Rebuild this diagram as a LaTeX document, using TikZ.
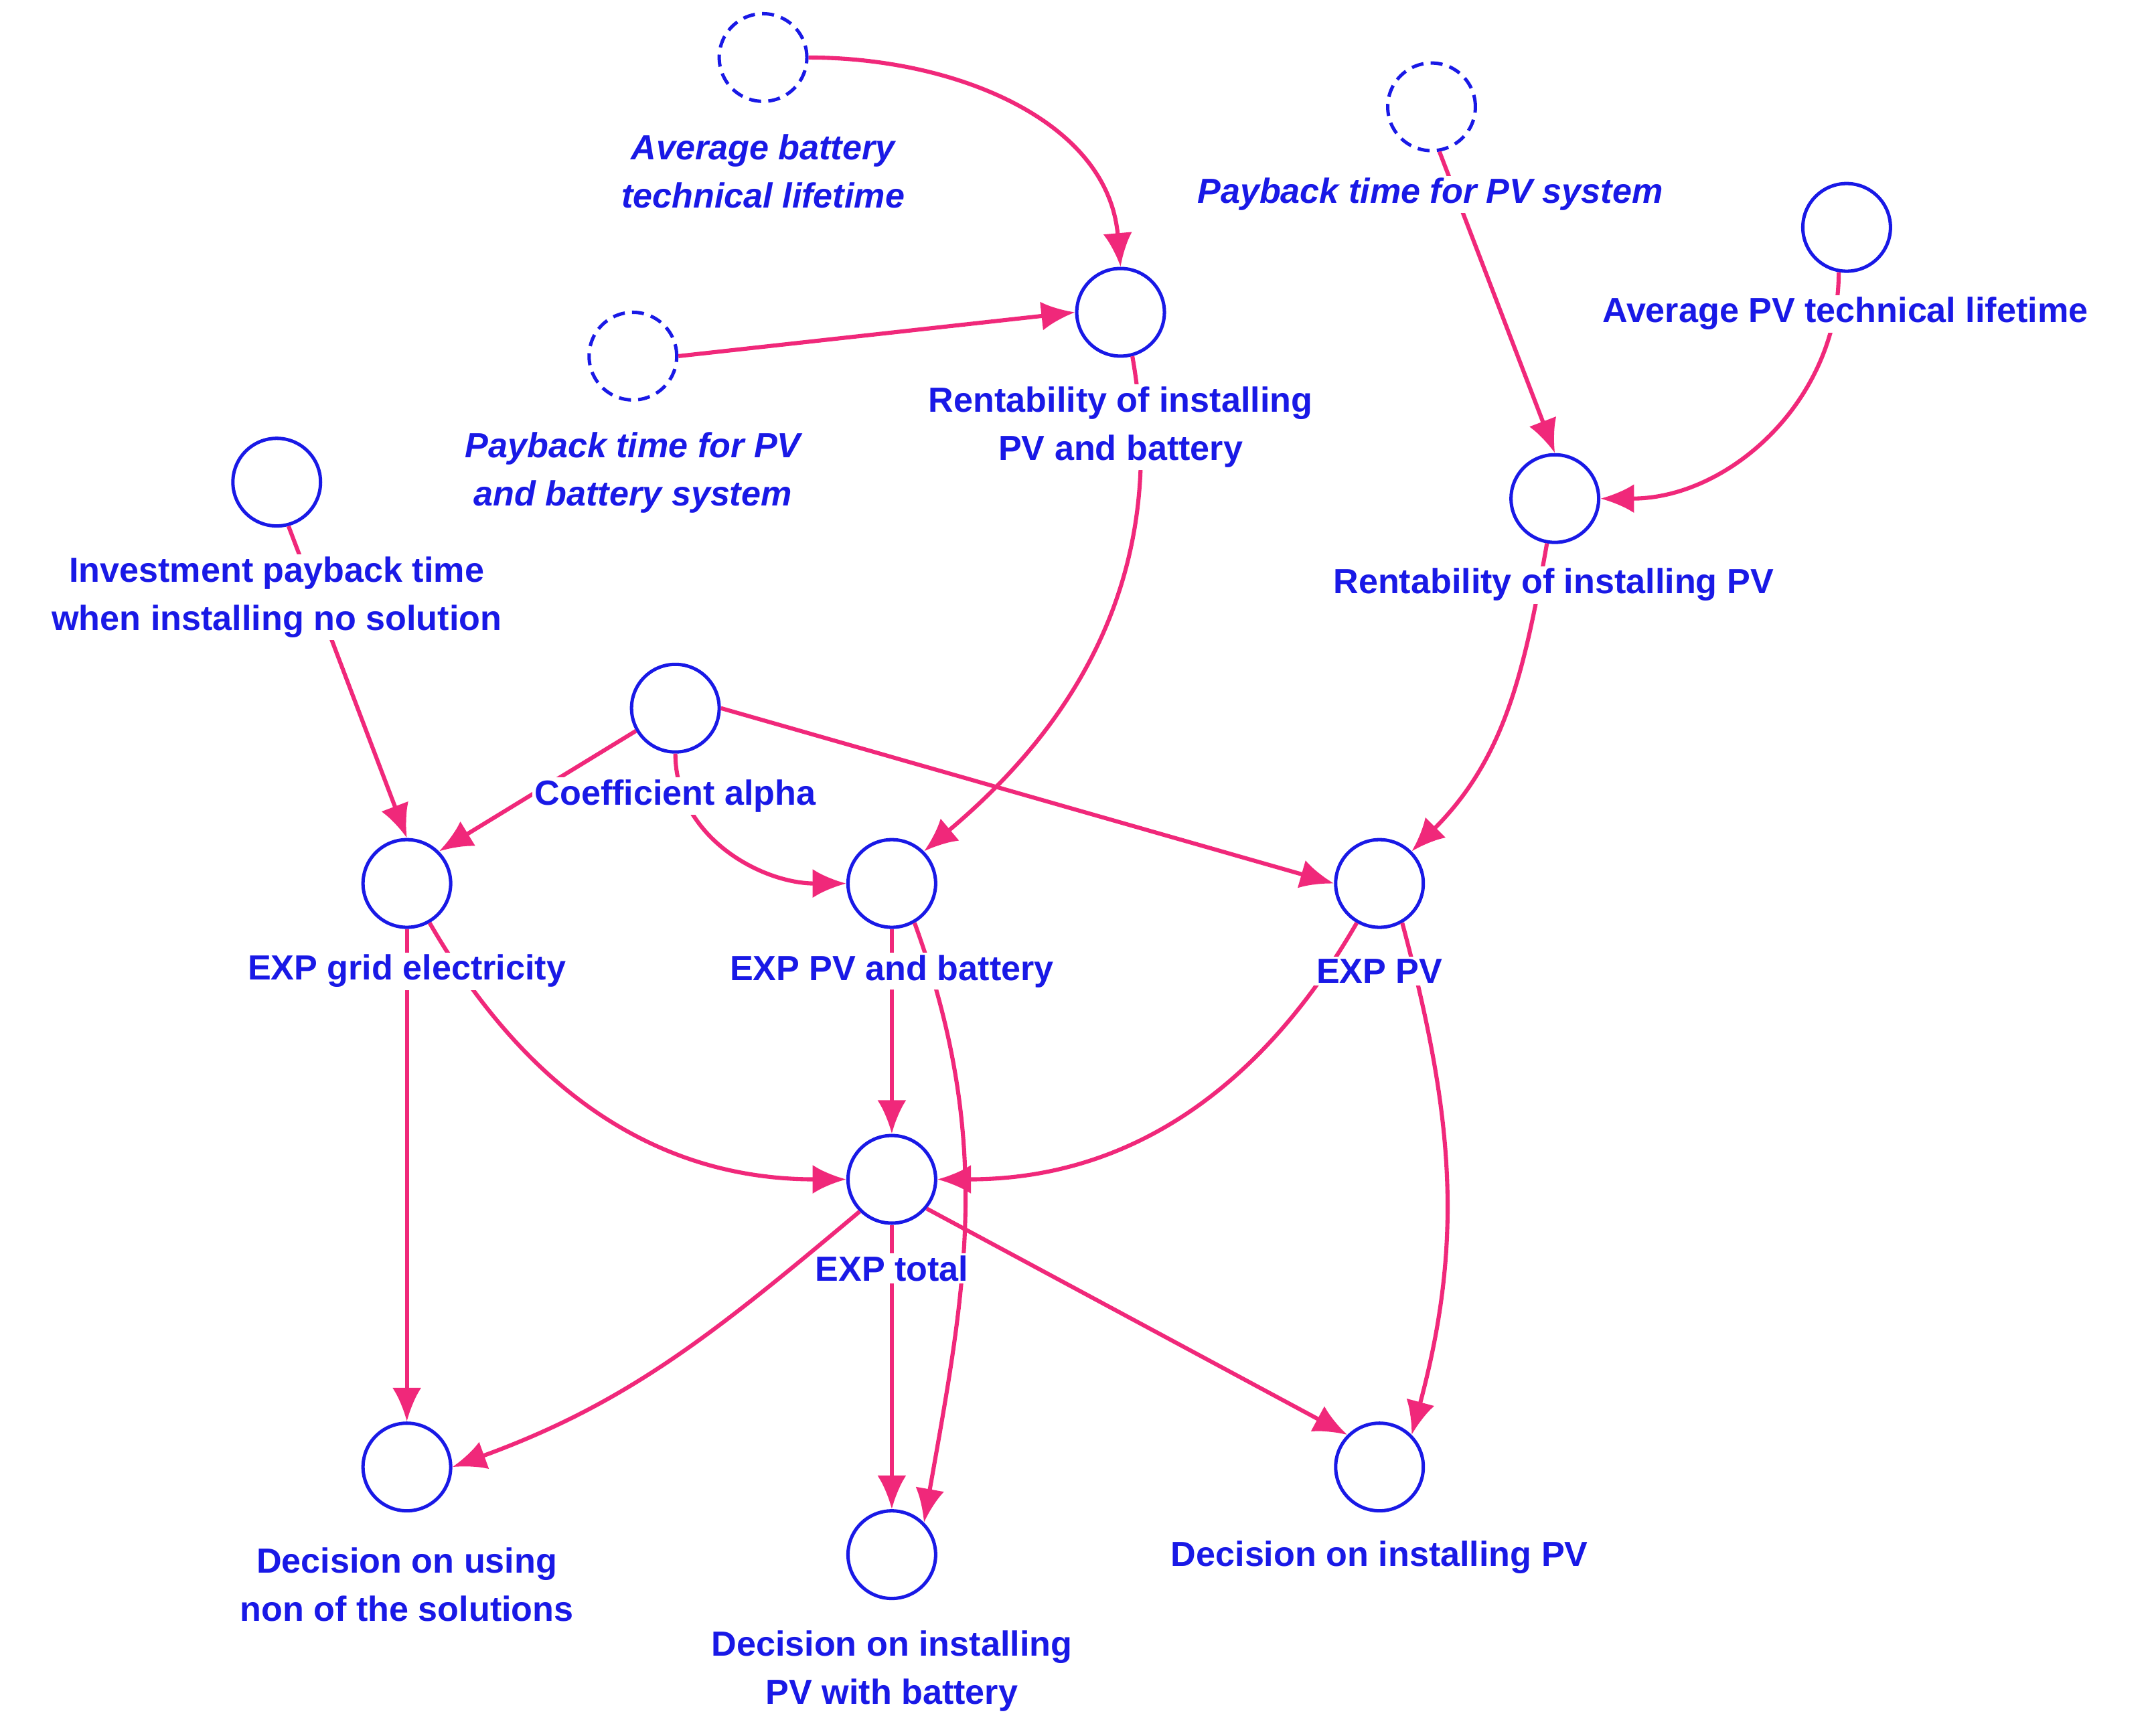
\documentclass[tikz,border=0pt]{standalone}
\usepackage{fontspec}
\setmainfont{Liberation Sans}
\usetikzlibrary{arrows.meta}
\definecolor{vb}{RGB}{25,25,230}
\definecolor{pk}{RGB}{240,40,122}
\begin{document}
\begin{tikzpicture}[x=0.02cm,y=-0.02cm,
 var/.style={circle,draw=vb,line width=1.4pt,minimum size=1.28cm,inner sep=0pt},
 sh/.style={var,dashed,dash pattern=on 5pt off 3pt},
 lab/.style={text=vb,font=\fontsize{14.5}{20}\selectfont\bfseries,align=center,fill=white,inner sep=1pt},
 ilab/.style={lab,font=\fontsize{14.5}{20}\selectfont\bfseries\itshape},
 ar/.style={draw=pk,line width=1.7pt,-{Latex[length=14pt,width=12pt]}}]
\useasboundingbox (0,0) rectangle (1568,1267);
\node[sh] (avgBat) at (557,42) {};
\node[sh] (payPV) at (1045,78) {};
\node[var] (avgPV) at (1348,166) {};
\node[var] (rentPVB) at (818,228) {};
\node[sh] (payPVB) at (462,260) {};
\node[var] (invest) at (202,352) {};
\node[var] (rentPV) at (1135,364) {};
\node[var] (alpha) at (493,517) {};
\node[var] (expGrid) at (297,645) {};
\node[var] (expPVB) at (651,645) {};
\node[var] (expPV) at (1007,645) {};
\node[var] (expTot) at (651,861) {};
\node[var] (decNone) at (297,1071) {};
\node[var] (decPVB) at (651,1135) {};
\node[var] (decPV) at (1007,1071) {};
% arrows
\draw[ar] (avgBat.east) to[out=0,in=95] (rentPVB.north);
\draw[ar] (payPVB.east) -- (rentPVB.west);
\draw[ar] (rentPVB.-75) to[out=-80,in=40] (expPVB.north east);
\draw[ar] (payPV.-80) -- (rentPV.north);
\draw[ar] (avgPV.-100) to[out=-90,in=0] (rentPV.east);
\draw[ar] (invest.-75) -- (expGrid.north);
\draw[ar] (rentPV.-100) to[out=-100,in=45] (expPV.north east);
\draw[ar] (alpha.-150) -- (expGrid.north east);
\draw[ar] (alpha.south) to[out=-90,in=180] (expPVB.west);
\draw[ar] (alpha.east) -- (expPV.west);
\draw[ar] (expGrid.south) -- (decNone.north);
\draw[ar] (expGrid.-60) to[out=-60,in=180] (expTot.west);
\draw[ar] (expPVB.south) -- (expTot.north);
\draw[ar] (expPVB.-60) to[out=-70,in=80] (decPVB.north east);
\draw[ar] (expPV.-120) to[out=-120,in=0] (expTot.east);
\draw[ar] (expPV.-60) to[out=-75,in=75] (decPV.north east);
\draw[ar] (expTot.-135) to[out=-140,in=20] (decNone.east);
\draw[ar] (expTot.south) -- (decPVB.north);
\draw[ar] (expTot.-40) -- (decPV.north west);
% labels
\node[ilab] at (557,125) {Average battery\\technical lifetime};
\node[ilab] at (1044,142) {Payback time for PV system};
\node[lab] at (1347,229) {Average PV technical lifetime};
\node[lab] at (818,312) {Rentability of installing\\PV and battery};
\node[ilab] at (462,345) {Payback time for PV\\and battery system};
\node[lab] at (202,436) {Investment payback time\\when installing no solution};
\node[lab] at (1134,427) {Rentability of installing PV};
\node[lab] at (493,581) {Coefficient alpha};
\node[lab] at (297,709) {EXP grid electricity};
\node[lab] at (651,709) {EXP PV and battery};
\node[lab] at (1007,709) {EXP PV};
\node[lab] at (651,926) {EXP total};
\node[lab] at (297,1157) {Decision on using\\non of the solutions};
\node[lab] at (651,1220) {Decision on installing\\PV with battery};
\node[lab] at (1007,1137) {Decision on installing PV};
\end{tikzpicture}
\end{document}
